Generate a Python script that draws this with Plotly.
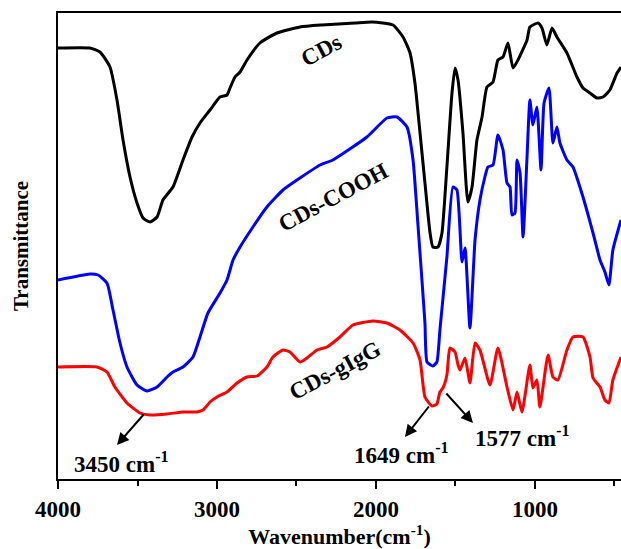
import plotly.graph_objects as go

# Wavenumbers (cm^-1) and transmittance (a.u.)
cds_wn = [4000, 3799, 3736, 3673, 3629, 3591, 3547, 3503, 3465, 3421, 3377, 3340, 3277, 3214, 3157, 3107,
          3044, 2981, 2937, 2918, 2887, 2855, 2811, 2730, 2623, 2478, 2340, 2132, 2025, 1893, 1830, 1786,
          1755, 1723, 1692, 1660, 1642, 1610, 1585, 1554, 1522, 1503, 1484, 1453, 1422, 1396, 1365, 1333,
          1302, 1264, 1233, 1201, 1170, 1138, 1107, 1050, 1032, 981, 956, 925, 893, 862, 799, 736, 698,
          654, 610, 572, 529, 484, 459]
cds_t = [431, 431, 427, 412, 379, 339, 302, 276, 261, 257, 262, 279, 292, 319, 342, 356,
         369, 382, 384, 391, 402, 407, 419, 436, 446, 452, 454, 456, 457, 454, 442, 426,
         396, 346, 296, 246, 232, 232, 246, 312, 386, 411, 399, 346, 277, 292, 339, 362,
         392, 397, 419, 422, 436, 411, 419, 439, 452, 456, 451, 434, 451, 442, 426, 402, 391,
         386, 381, 382, 389, 406, 412]

cooh_wn = [4000, 3799, 3748, 3692, 3654, 3610, 3566, 3503, 3440, 3377, 3314, 3277, 3214, 3151, 3107, 3057,
           2981, 2937, 2899, 2855, 2774, 2686, 2585, 2478, 2352, 2271, 2057, 1931, 1868, 1805, 1767, 1736,
           1711, 1692, 1679, 1642, 1617, 1598, 1554, 1516, 1491, 1459, 1440, 1409, 1377, 1346, 1315, 1296,
           1264, 1233, 1201, 1176, 1157, 1145, 1126, 1113, 1094, 1075, 1050, 1032, 1013, 988, 962, 943,
           912, 887, 862, 843, 799, 761, 698, 635, 591, 560, 535, 510, 459]
cooh_t = [199, 205, 204, 196, 169, 136, 112, 94, 88, 92, 102, 107, 112, 122, 142, 166,
          186, 199, 219, 232, 252, 272, 289, 301, 314, 319, 342, 361, 362, 352, 319, 254,
          199, 156, 117, 113, 117, 149, 222, 292, 289, 217, 231, 151, 239, 279, 302, 312,
          314, 344, 329, 296, 292, 264, 266, 319, 306, 242, 322, 379, 354, 372, 309, 376,
          391, 336, 352, 336, 319, 312, 282, 246, 219, 207, 194, 229, 259]

igg_wn = [4000, 3755, 3692, 3642, 3566, 3484, 3421, 3314, 3214, 3126, 3088, 3044, 3000, 2937, 2874, 2811,
          2748, 2686, 2648, 2585, 2541, 2478, 2434, 2371, 2308, 2227, 2145, 2019, 1931, 1849, 1767, 1723,
          1692, 1648, 1617, 1598, 1579, 1554, 1535, 1503, 1484, 1472, 1440, 1409, 1377, 1346, 1283, 1233,
          1176, 1138, 1113, 1082, 1032, 1013, 988, 969, 918, 887, 856, 799, 761, 698, 654, 635, 591,
          560, 535, 510, 459]
igg_t = [112, 112, 107, 92, 76, 66, 64, 65, 67, 67, 69, 77, 82, 87, 96, 102,
         103, 112, 122, 129, 127, 117, 121, 129, 132, 142, 154, 158, 156, 149, 136, 119,
         82, 73, 75, 87, 91, 104, 131, 127, 114, 109, 121, 96, 136, 129, 94, 131,
         92, 69, 87, 67, 114, 91, 99, 72, 124, 102, 99, 129, 142, 142, 122, 101, 92,
         79, 76, 99, 122]

series = [("CDs", cds_wn, cds_t, "#000000"),
          ("CDs-COOH", cooh_wn, cooh_t, "#0000FF"),
          ("CDs-gIgG", igg_wn, igg_t, "#FF0000")]

# label text, x, y, angle
curve_labels = [("CDs", 2346, 429, -28),
                ("CDs-COOH", 2271, 282, -28),
                ("CDs-gIgG", 2258, 109, -28)]

# peak arrows: head x, head y, tail x, tail y
peak_arrows = [(3629, 34, 3453, 66), (1818, 42, 1660, 74), (1390, 56, 1566, 87)]
peak_texts = [("3450 cm<sup>-1</sup>", 3912, 17), ("1649 cm<sup>-1</sup>", 2151, 26),
              ("1577 cm<sup>-1</sup>", 1390, 43)]

FONT = "Liberation Serif"

fig = go.Figure()
for name, wn, t, col in series:
    fig.add_trace(go.Scatter(x=wn, y=t, mode="lines", name=name,
                             line=dict(color=col, width=3, shape="spline", smoothing=0.5)))

for txt, x, y, ang in curve_labels:
    fig.add_annotation(x=x, y=y, text="<b>" + txt + "</b>", showarrow=False, textangle=ang,
                       font=dict(family=FONT, size=23, color="black"))

for hx, hy, tx, ty in peak_arrows:
    fig.add_annotation(x=hx, y=hy, ax=tx, ay=ty, axref="x", ayref="y", text="",
                       showarrow=True, arrowhead=2, arrowsize=1.2, arrowwidth=2, arrowcolor="black")

for txt, x, y in peak_texts:
    fig.add_annotation(x=x, y=y, text="<b>" + txt + "</b>", showarrow=False, xanchor="left",
                       yanchor="middle", font=dict(family=FONT, size=23, color="black"))

fig.update_layout(
    width=621, height=549,
    margin=dict(l=58, r=0, t=13, b=70),
    plot_bgcolor="white", paper_bgcolor="white",
    showlegend=False,
    xaxis=dict(range=[4000, 459], showline=True, linecolor="black", linewidth=2, mirror=True,
               ticks="outside", ticklen=8, tickwidth=2, tickcolor="black", dtick=1000, tick0=0,
               minor=dict(dtick=500, ticks="outside", ticklen=5, tickwidth=2, tickcolor="black"),
               showgrid=False, zeroline=False,
               tickfont=dict(family=FONT, size=23, color="black", weight="bold"),
               title=dict(text="<b>Wavenumber(cm<sup>-1</sup>)</b>", standoff=5,
                          font=dict(family=FONT, size=22, color="black"))),
    yaxis=dict(range=[0, 466], showline=True, linecolor="black", linewidth=2, mirror=False,
               showticklabels=False, ticks="", showgrid=False, zeroline=False,
               title=dict(text="<b>Transmittance</b>", standoff=22,
                          font=dict(family=FONT, size=21, color="black"))),
)

fig.write_html("out.html")
